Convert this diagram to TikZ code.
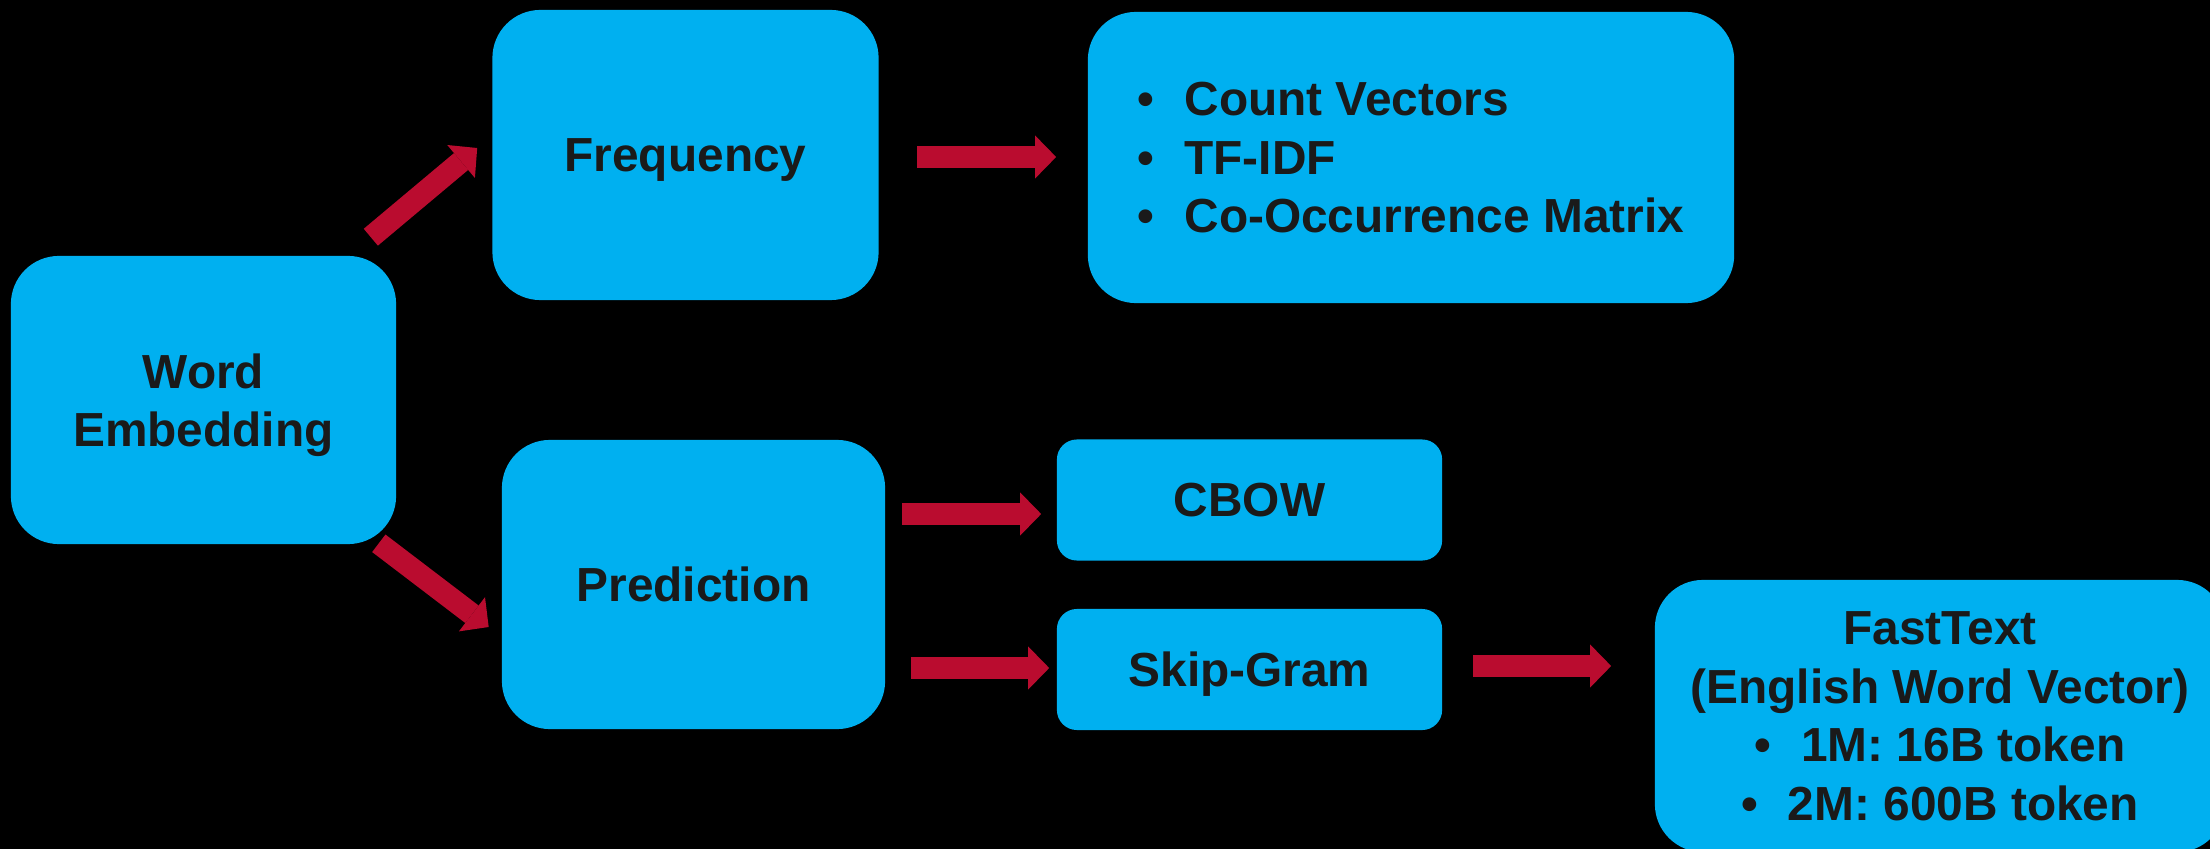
\documentclass[tikz,border=0pt]{standalone}
\usepackage{fontspec}
\setmainfont{Liberation Sans}
\usetikzlibrary{arrows.meta,calc}
\definecolor{boxblue}{HTML}{00B0F0}
\definecolor{arrowred}{HTML}{BA0C2F}
\definecolor{txt}{HTML}{1A1A1A}
\begin{document}
\begin{tikzpicture}[x=0.01cm,y=-0.01cm,
  box/.style={draw=none, fill=boxblue, rounded corners=0.48cm, inner sep=0pt,
    text=txt, font=\fontsize{13.6}{16.6}\selectfont\bfseries, align=center, text depth=0pt},
  smallbox/.style={box, rounded corners=0.2cm},
  blockarrow/.style={draw=arrowred, line width=0.22cm,
    -{Triangle[length=0.21cm,width=0.43cm,line width=0pt]}}]
\fill[black] (0,0) rectangle (2210,849);
\useasboundingbox (0,0) rectangle (2210,849);
\begin{scope}
\clip (0,0) rectangle (2210,849);
\node[box, minimum width=3.85cm, minimum height=2.88cm] (we) at (203.5,400) {Word\\Embedding};
\node[box, minimum width=3.86cm, minimum height=2.90cm] (freq) at (685.5,155) {Frequency};
\node[box, minimum width=6.46cm, minimum height=2.91cm, align=left] (list) at (1411,157.5)
  {\textbullet\hspace{8.5pt}Count Vectors\\\textbullet\hspace{8.5pt}TF-IDF\\\textbullet\hspace{8.5pt}Co-Occurrence Matrix};
\node[box, minimum width=3.83cm, minimum height=2.89cm] (pred) at (693.5,584.5) {Prediction};
\node[smallbox, minimum width=3.85cm, minimum height=1.21cm] (cbow) at (1249.5,500) {CBOW};
\node[smallbox, minimum width=3.85cm, minimum height=1.21cm] (skip) at (1249.5,669.5) {Skip-Gram};
\node[box, minimum width=5.70cm, minimum height=2.72cm] (fast) at (1940,716)
  {FastText\\(English Word Vector)\\\textbullet\hspace{8.5pt}1M: 16B token\\\textbullet\hspace{8.5pt}2M: 600B token};

\draw[blockarrow] ($(we.north east)+(-26,-18)$) -- ($(freq.west)+(-14.5,-7)$);
\draw[blockarrow] ($(we.south east)+(-18,-1.5)$) -- ($(pred.west)+(-12.5,42.5)$);
\draw[blockarrow] ($(freq.east)+(38,2)$) -- ($(list.west)+(-31,-0.5)$);
\draw[blockarrow] ($(pred.east)+(16,-70.5)$) -- ($(cbow.west)+(-15,14)$);
\draw[blockarrow] ($(pred.east)+(25,83.5)$) -- ($(skip.west)+(-7,-1.5)$);
\draw[blockarrow] ($(skip.east)+(30,-3.5)$) -- ($(fast.west)+(-43,-50)$);
\end{scope}
\end{tikzpicture}
\end{document}
